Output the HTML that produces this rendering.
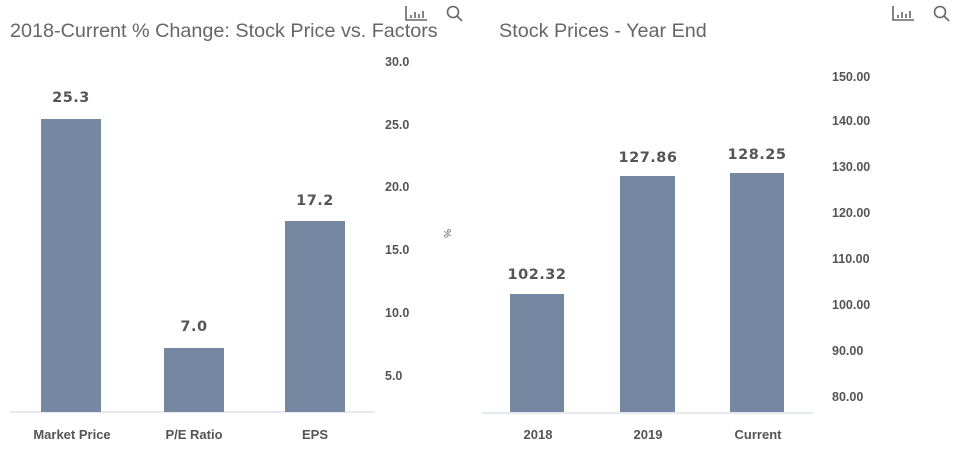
<!DOCTYPE html>
<html><head><meta charset="utf-8"><style>
html,body{margin:0;padding:0;background:#fff;width:957px;height:450px;overflow:hidden}
</style></head><body>
<svg width="957" height="450" xmlns="http://www.w3.org/2000/svg" font-family="Liberation Sans, sans-serif">
<rect width="957" height="450" fill="#fff"/>
<text x="10" y="37" font-size="19.8" fill="#666">2018-Current % Change: Stock Price vs. Factors</text>
<text x="499" y="37" font-size="19.8" fill="#666">Stock Prices - Year End</text>
<g stroke="#666" stroke-width="1.6" fill="none">
<path d="M406 6 V20 H427"/><path d="M411 18v-3M415 18v-6M419 18v-4M423 18v-7"/>
<circle cx="453" cy="12" r="5.5"/><path d="M457 16 L462 21"/>
<path d="M893 6 V20 H914"/><path d="M898 18v-3M902 18v-6M906 18v-4M910 18v-7"/>
<circle cx="940" cy="12" r="5.5"/><path d="M944 16 L949 21"/>
</g>
<line x1="10" y1="412" x2="375" y2="412" stroke="#ccd3dd" stroke-width="1"/>
<g fill="#7687a2">
<rect x="41" y="119" width="60" height="293"/>
<rect x="164" y="348" width="60" height="64"/>
<rect x="285" y="221" width="60" height="191"/>
</g>
<g font-family="DejaVu Sans, sans-serif" font-size="14.5" font-weight="bold" fill="#555" text-anchor="middle" letter-spacing="0.5">
<text x="71" y="102">25.3</text>
<text x="194" y="331">7.0</text>
<text x="315" y="205">17.2</text>
<text x="537" y="279">102.32</text>
<text x="648" y="162">127.86</text>
<text x="757" y="159">128.25</text>
</g>
<g font-size="12.5" font-weight="bold" fill="#555">
<text x="385" y="66">30.0</text>
<text x="385" y="129">25.0</text>
<text x="385" y="191">20.0</text>
<text x="385" y="254">15.0</text>
<text x="385" y="317">10.0</text>
<text x="385" y="380">5.0</text>
<text x="832" y="81">150.00</text>
<text x="832" y="125">140.00</text>
<text x="832" y="171">130.00</text>
<text x="832" y="217">120.00</text>
<text x="832" y="263">110.00</text>
<text x="832" y="309">100.00</text>
<text x="832" y="355">90.00</text>
<text x="832" y="401">80.00</text>
</g>
<text x="0" y="0" font-size="10" fill="#555" transform="translate(444,229) rotate(90)">%</text>
<g font-size="13" font-weight="bold" fill="#555" text-anchor="middle">
<text x="72" y="439">Market Price</text>
<text x="194" y="439">P/E Ratio</text>
<text x="315" y="439">EPS</text>
<text x="538" y="439">2018</text>
<text x="648" y="439">2019</text>
<text x="758" y="439">Current</text>
</g>
<line x1="482" y1="413" x2="813" y2="413" stroke="#ccd3dd" stroke-width="1"/>
<g fill="#7687a2">
<rect x="510" y="294" width="54" height="118"/>
<rect x="620" y="176" width="55" height="236"/>
<rect x="730" y="173" width="54" height="239"/>
</g>
</svg>
</body></html>
